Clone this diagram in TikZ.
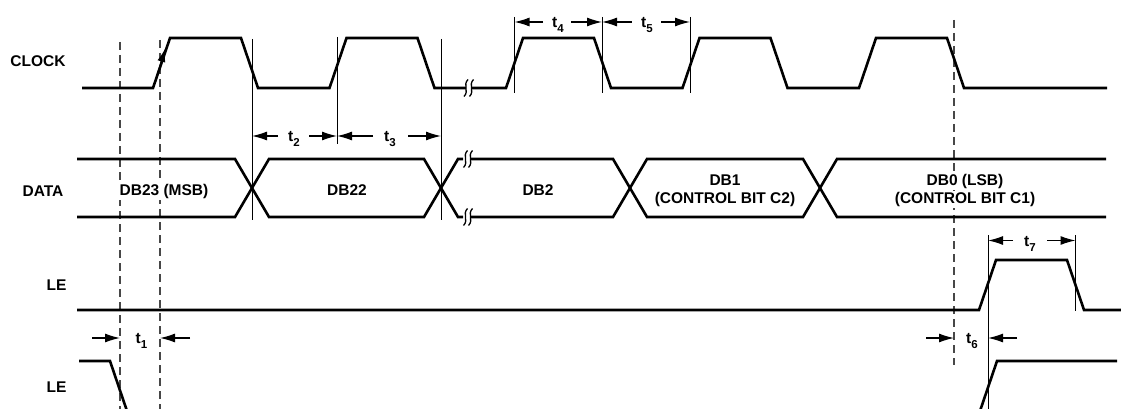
\documentclass[tikz,border=0pt]{standalone}
\usepackage{fontspec}
\setmainfont{Liberation Sans}
\usetikzlibrary{arrows.meta}
\newcommand{\tsb}[1]{t\raisebox{-0.3em}{\fontsize{11.5}{11.5}\selectfont #1}}
\newcommand{\wav}[2]{\draw[sq] (#1+2,#2-8.5) .. controls (#1-3.5,#2-3) and (#1+3.5,#2+3) .. (#1-2,#2+8.5);}
\begin{document}
\begin{tikzpicture}[x=1pt,y=-1pt,
 sig/.style={line width=2.6pt},
 ref/.style={line width=1pt},
 dsh/.style={line width=1.3pt, draw=black!72, dash pattern=on 8pt off 5pt},
 dim/.style={line width=1.2pt, -{Latex[length=15pt,width=9pt]}},
 lbl/.style={font=\fontsize{15.5}{18}\selectfont\bfseries, inner sep=0pt, anchor=base},
 dlbl/.style={lbl, fill=white, inner sep=1.5pt},
 sq/.style={line width=1.3pt}]
\useasboundingbox (0,0) rectangle (1121,409);

% ---- signal names
\node[lbl] (lclk) at (38,66.5) {CLOCK};
\node[lbl] (ldata) at (43,196.5) {DATA};
\node[lbl] (lle1) at (56.5,290.7) {LE};
\node[lbl] (lle2) at (56.5,392) {LE};

% ---- reference lines
\draw[ref] (252,39) -- (252,220);
\draw[ref] (337,37) -- (337,144);
\draw[ref] (441,39) -- (441,220);
\draw[ref] (514.5,17) -- (514.5,93);
\draw[ref] (602,17) -- (602,93);
\draw[ref] (690,17) -- (690,93);
\draw[ref] (988,235) -- (988,409);
\draw[ref] (1075.5,235) -- (1075.5,311);

\draw[dsh] (120,42) -- (120,409);
\draw[dsh] (160,40) -- (160,409);
\draw[dsh] (954,20) -- (954,365);

% ---- CLOCK
\draw[sig] (82,88) -- (153,88) -- (170,38) -- (241,38) -- (258,88) -- (329.5,88) -- (346.5,38) -- (417.5,38) -- (434.5,88) -- (466,88);
\draw[sig] (471,88) -- (506,88) -- (523,38) -- (594,38) -- (611,88) -- (682.5,88) -- (699.5,38) -- (770.5,38) -- (787.5,88) -- (859,88) -- (876,38) -- (947,38) -- (964,88) -- (1107,88);
\wav{466}{88}
\wav{471.5}{88}
\coordinate (ca) at (155,82);
\coordinate (cb) at (165.5,48);
\draw[line width=1.3pt, -{Latex[length=14pt,width=8pt]}] (ca) -- (cb);

% ---- DATA
\draw[sig] (77,159) -- (235,159) -- (252,188) -- (235,217) -- (77,217);
\draw[sig] (252,188) -- (269,159) -- (424,159) -- (441,188) -- (424,217) -- (269,217) -- cycle;
\draw[sig] (463,159) -- (458,159) -- (441,188) -- (458,217) -- (463,217);
\draw[sig] (470,159) -- (613,159) -- (630,188) -- (613,217) -- (470,217);
\wav{465.5}{159}
\wav{470.5}{159}
\wav{465.5}{217}
\wav{470.5}{217}
\draw[sig] (630,188) -- (647,159) -- (803,159) -- (820,188) -- (803,217) -- (647,217) -- cycle;
\draw[sig] (1106,159) -- (837,159) -- (820,188) -- (837,217) -- (1106,217);

\node[dlbl] (d23) at (164,195.5) {DB23 (MSB)};
\node[dlbl] (d22) at (347,195.5) {DB22};
\node[dlbl] (d2) at (538,195.5) {DB2};
\node[dlbl] (d1a) at (725,185) {DB1};
\node[dlbl] (d1b) at (725,203.5) {(CONTROL BIT C2)};
\node[dlbl] (d0a) at (965,185) {DB0 (LSB)};
\node[dlbl] (d0b) at (965,203.5) {(CONTROL BIT C1)};

% ---- LE
\draw[sig] (77,310) -- (979,310) -- (996,260) -- (1067,260) -- (1084,310) -- (1121,310);
\draw[sig] (79,361) -- (110,361) -- (127,411);
\draw[sig] (980,411) -- (997,361) -- (1117,361);

% ---- timing labels and dimension arrows
\node[lbl] (t2) at (294,142) {\tsb{2}};
\node[lbl] (t3) at (390,142) {\tsb{3}};
\node[lbl] (t4) at (558,28) {\tsb{4}};
\node[lbl] (t5) at (647,28) {\tsb{5}};
\node[lbl] (t7) at (1030,246.5) {\tsb{7}};
\node[lbl] (t1) at (141.5,343.5) {\tsb{1}};
\node[lbl] (t6) at (972,343.5) {\tsb{6}};

\coordinate (t2a) at (278,136); \coordinate (t2b) at (252,136);
\coordinate (t2c) at (309,136); \coordinate (t2d) at (337,136);
\coordinate (t3a) at (373,136); \coordinate (t3b) at (337,136);
\coordinate (t3c) at (408,136); \coordinate (t3d) at (441,136);
\coordinate (t4a) at (543,22); \coordinate (t4b) at (514.5,22);
\coordinate (t4c) at (571,22); \coordinate (t4d) at (602,22);
\coordinate (t5a) at (631.5,22); \coordinate (t5b) at (602,22);
\coordinate (t5c) at (661,22); \coordinate (t5d) at (690,22);
\coordinate (t7a) at (1013,240.5); \coordinate (t7b) at (988,240.5);
\coordinate (t7c) at (1047,240.5); \coordinate (t7d) at (1075.5,240.5);
\coordinate (t1a) at (92,338); \coordinate (t1b) at (120,338);
\coordinate (t1c) at (190,338); \coordinate (t1d) at (160,338);
\coordinate (t6a) at (926,338); \coordinate (t6b) at (954,338);
\coordinate (t6c) at (1017,338); \coordinate (t6d) at (988,338);

\foreach \p in {t2,t3,t4,t5,t7,t1,t6} {
  \draw[dim] (\p a) -- (\p b);
  \draw[dim] (\p c) -- (\p d);
}
\end{tikzpicture}
\end{document}
